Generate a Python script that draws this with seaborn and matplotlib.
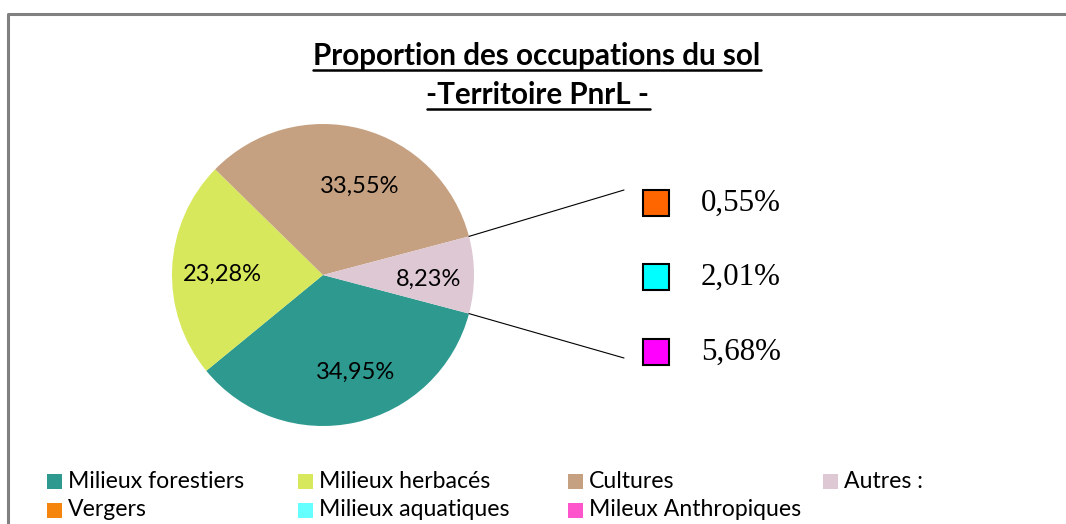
import seaborn as sns
import matplotlib
matplotlib.use("Agg")
from matplotlib import pyplot as plt
from matplotlib.patches import Rectangle
import numpy as np

# donnees
categories = ["Milieux forestiers", "Milieux herbacés", "Cultures", "Autres :"]
valeurs = [34.95, 23.28, 33.55, 8.23]
couleurs = ["#2E9A8F", "#D8E85C", "#C6A181", "#DDC8D3"]

autres_noms = ["Vergers", "Milieux aquatiques", "Mileux Anthropiques"]
autres_valeurs = [0.55, 2.01, 5.68]
autres_couleurs = ["#F5850C", "#66FFFF", "#FF55CC"]
carres_couleurs = ["#FF6600", "#00FFFF", "#FF00FF"]

titre1 = "Proportion des occupations du sol"
titre2 = "-Territoire PnrL -"

sns.set_theme(style="white")
plt.rcParams["font.family"] = ["Lato", "DejaVu Sans"]
plt.rcParams["text.color"] = "black"

W, H = 1066, 524
fig = plt.figure(figsize=(W / 100, H / 100), dpi=100)
ax = fig.add_axes([0, 0, 1, 1])

def fmt(v):
    return ("%.2f" % v).replace(".", ",") + "%"

# camembert principal (coordonnees en pixels, y vers le haut)
cx, cy, r = 323, H - 275, 151
debut = -valeurs[3] * 360 / 100 / 2
wedges, textes = ax.pie(valeurs, colors=couleurs, startangle=debut, counterclock=False,
                        center=(cx, cy), radius=r, labels=[fmt(v) for v in valeurs],
                        labeldistance=0.66, wedgeprops=dict(linewidth=0),
                        textprops=dict(fontsize=17, color="black", va="center"))
# petits decalages des etiquettes comme dans Excel
decal = [(11, 0), (-1, 4), (11, 8), (6, 4)]
for t, (dx, dy) in zip(textes, decal):
    t.set_ha("center")
    x, y = t.get_position()
    t.set_position((x + dx, y - dy))

ax.set_xlim(0, W)
ax.set_ylim(0, H)
ax.set_aspect("auto")
ax.axis("off")

# lignes vers le detail "Autres"
a = np.deg2rad(-debut)
x0 = cx + r * np.cos(a)
ax.plot([x0, 624], [cy + r * np.sin(a), H - 190], color="black", lw=0.8)
ax.plot([x0, 624], [cy - r * np.sin(a), H - 358], color="black", lw=0.8)

ys = [H - 203, H - 277, H - 352]
for v, c, y in zip(autres_valeurs, carres_couleurs, ys):
    ax.add_patch(Rectangle((643, y - 13), 26, 26, facecolor=c, edgecolor="black", lw=1.5))
    ax.text(701, y, fmt(v), fontsize=22.3, family="Liberation Serif", va="center", ha="left")

# titre souligne
t1 = ax.text(537, H - 65, titre1, fontsize=21.3, fontweight="bold", ha="center", va="baseline")
t2 = ax.text(538, H - 104, titre2, fontsize=21.3, fontweight="bold", ha="center", va="baseline")
fig.canvas.draw()
rend = fig.canvas.get_renderer()
for t, yb in [(t1, H - 70), (t2, H - 109)]:
    bb = t.get_window_extent(rend)
    ax.plot([bb.x0, bb.x1], [yb, yb], color="black", lw=1.8)

# legende
lignes = [(categories[i], couleurs[i]) for i in range(4)]
lignes2 = [(autres_noms[i], autres_couleurs[i]) for i in range(3)]
xcol = [47, 298, 568, 823]
for row, items in enumerate([lignes, lignes2]):
    y = H - (481 + row * 29)
    for (nom, c), xc in zip(items, xcol):
        ax.add_patch(Rectangle((xc, y - 7.5), 15, 15, facecolor=c, edgecolor="none"))
        ax.text(xc + 21, y, nom, fontsize=16.6, va="center", ha="left")

# cadre
ax.plot([8, 8, W], [0, H - 14, H - 14], color="#808080", lw=2.2)

fig.savefig("out.png", dpi=100)
